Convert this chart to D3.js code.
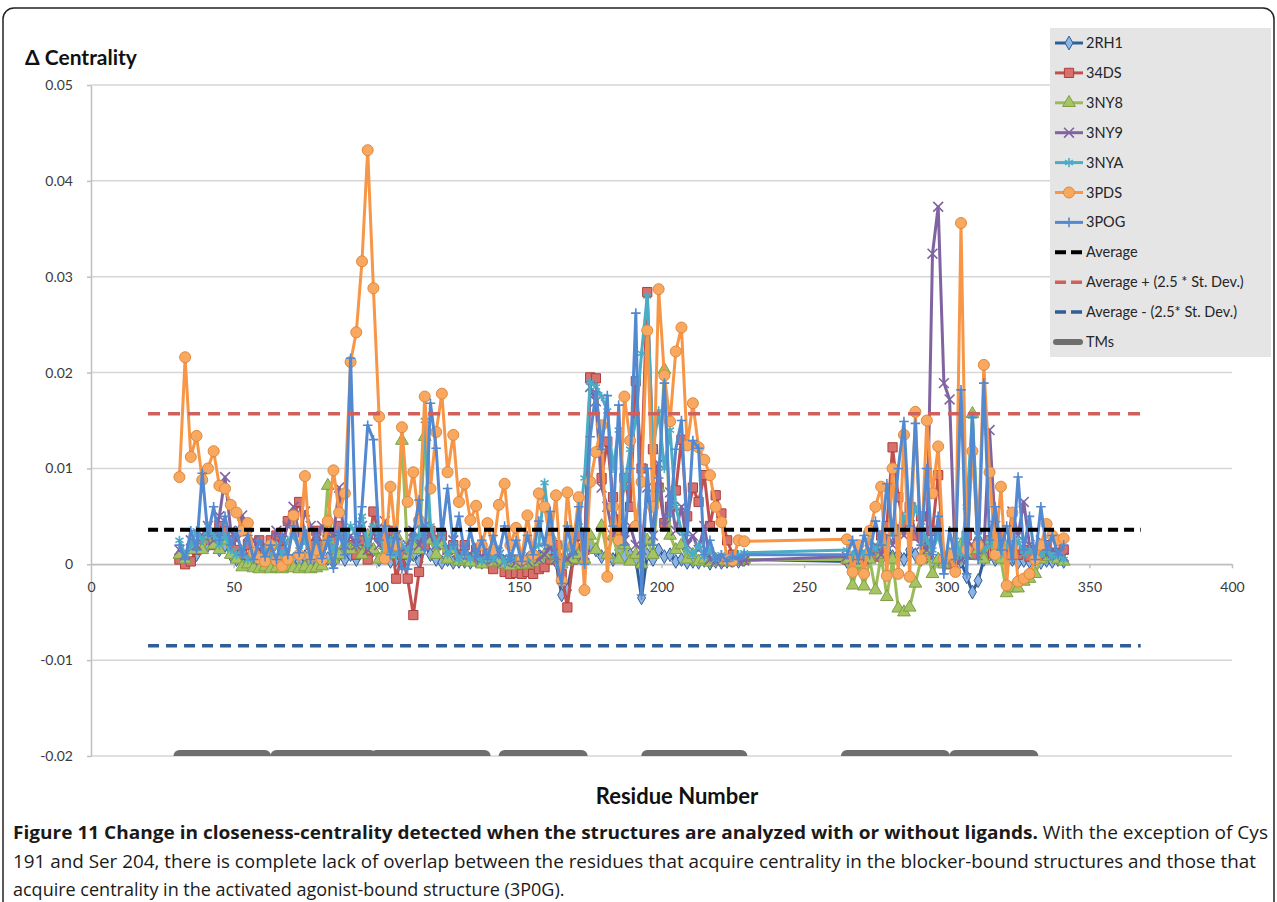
<!DOCTYPE html>
<html>
<head>
<meta charset="utf-8">
<script src="https://cdn.jsdelivr.net/npm/d3@7"></script>
<style>
  body { margin: 0; background: #fff; }
  svg { display: block; font-family: Lato, "Open Sans", sans-serif; }
</style>
</head>
<body>
<div id="chart"></div>
<script>
// residue numbers (the loop 230-265 has no data)
var residues = d3.range(31, 230, 2).concat(d3.range(265, 342, 2));

// delta centrality per structure, in units of 0.001
var v2RH1 = [
  1.0, 0.5, 2.0, 1.0, 2.5, 2.0, 3.0, 1.5, 2.0, 1.0,
  0.5, 0.3, 0.5, 0.2, 0.4, 0.0, 0.3, 0.1, 0.5, 0.2,
  0.5, 0.3, 0.8, 0.2, 0.5, 0.3, 0.6, 0.2, 1.0, 0.5,
  1.0, 0.5, 2.0, 0.8, 1.5, 0.5, 1.0, 0.3, 0.5, 0.2,
  0.5, 1.0, 0.3, 2.0, 1.0, 0.5, 0.2, 0.5, 0.2, 0.3,
  0.3, 0.2, 0.4, 0.2, 0.3, 0.1, 0.3, 0.2, 0.1, 0.3,
  0.2, 0.5, 0.3, 0.8, 0.5, 1.0, 0.3, -3.2, -2.7, 0.5,
  1.0, 0.5, 2.0, 1.5, 0.8, 1.0, 0.5, 1.5, 0.8, 1.0,
  0.5, -3.5, 1.0, 0.5, 1.5, 0.8, 1.0, 0.3, 0.5, 0.2,
  0.3, 0.2, 0.4, 0.1, 0.3, 0.2, 0.3, 0.4, 0.3, 0.5,
  0.3, 0.5, 0.2, 0.8, 0.5, 1.0, 0.5, 1.5, 0.8, 1.0,
  0.5, 1.5, 1.0, 0.5, 0.8, 0.3, 0.5, 0.2, 0.8, 0.5,
  0.3, -1.3, -2.9, -1.7, 0.5, 1.0, 0.5, 0.8, 0.3, 0.5,
  0.2, 0.4, 0.3, 0.5, 0.2, 0.4, 0.3, 0.5, 0.3
];
var v34DS = [
  0.5, 0.0, 0.3, 1.5, 2.5, 3.0, 2.0, 4.0, 3.5, 2.5,
  1.5, 1.0, 2.0, 1.2, 2.5, 1.5, 2.5, 3.0, 1.5, 4.5,
  5.1, 6.5, 3.0, 2.0, 3.5, 2.0, 3.0, 2.5, 4.0, 3.0,
  2.0, 1.0, 2.5, 0.5, 5.5, 3.0, 2.0, 3.5, -1.5, 1.0,
  -1.5, -5.3, -0.8, 2.0, 3.5, 2.5, 3.0, 1.5, 2.0, 1.0,
  2.0, 0.5, 1.5, 0.5, 1.0, -0.5, 0.5, -0.8, -1.0, -0.9,
  -1.0, -0.8, -1.0, -0.5, -0.3, 0.5, 2.0, -1.0, -4.5, 0.5,
  3.0, 1.5, 19.5, 19.4, 9.0, 12.8, 7.0, 3.0, 9.0, 6.0,
  19.1, 10.0, 28.4, 12.0, 8.0, 4.3, 6.0, 7.7, 13.0, 5.0,
  8.0, 6.5, 9.3, 4.0, 7.2, 5.3, 2.5, 1.0, 0.5, 0.5,
  0.5, 0.0, 0.5, 0.3, 1.0, 0.8, 3.0, 4.0, 12.2, 7.0,
  4.0, 6.0, 3.0, 5.0, 1.0, 3.5, 9.3, 0.3, 0.0, 0.5,
  1.5, 3.0, 1.0, 2.0, 1.0, 2.5, 1.5, 3.0, 1.0, 2.0,
  1.0, 1.5, 0.8, 1.5, 1.0, 2.0, 1.0, 1.2, 1.5
];
var v3NY8 = [
  1.0, 0.5, 1.5, 2.0, 1.5, 3.0, 2.0, 1.5, 2.5, 1.0,
  0.5, -0.3, 0.0, -0.4, -0.5, -0.3, -0.5, -0.4, -0.5, -0.3,
  -0.4, -0.5, -0.3, -0.5, -0.4, -0.2, 8.2, 0.5, 1.0, 2.0,
  1.5, 2.0, 1.0, 3.0, 1.5, 0.5, 2.0, 1.0, 3.0, 12.9,
  1.0, 2.0, 1.5, 13.3, 2.5, 1.0, 2.0, 0.5, 1.5, 0.3,
  0.5, 0.2, 1.0, 0.0, 0.5, 0.2, 0.3, 0.0, -0.2, 0.1,
  -0.1, 0.0, 0.2, 0.5, 1.0, 3.0, 0.5, 0.0, 0.3, 0.5,
  1.0, 0.5, 3.0, 1.5, 4.0, 1.0, 3.0, 0.5, 2.0, 0.3,
  1.0, 0.0, 2.5, 1.0, 8.0, 20.3, 3.0, 1.5, 2.0, 0.5,
  1.0, 0.3, 0.5, 0.2, 0.5, 0.3, 0.2, 0.4, 0.3, 0.5,
  0.5, -2.2, 0.0, -2.3, 0.5, -2.7, 1.0, -3.4, 0.5, -4.6,
  -5.0, -4.5, -2.0, 0.5, 1.5, -1.0, 0.5, 0.0, 1.0, 0.5,
  2.0, 1.0, 15.7, 1.5, 0.5, 2.5, 1.0, 0.5, -3.0, -2.5,
  -2.5, -1.8, -1.5, -1.0, 0.5, 0.8, 1.0, 0.5, 0.3
];
var v3NY9 = [
  1.5, 1.0, 2.5, 2.0, 3.0, 4.0, 2.5, 5.0, 9.1, 3.5,
  2.5, 5.1, 3.0, 2.5, 1.5, 2.0, 1.0, 3.5, 2.5, 4.0,
  6.0, 3.0, 5.5, 4.0, 3.0, 4.0, 2.5, 3.0, 8.0, 2.0,
  3.0, 2.0, 4.0, 1.5, 3.5, 2.0, 4.5, 2.5, 3.0, 1.5,
  2.0, 3.5, 2.0, 4.0, 3.0, 2.0, 3.0, 1.5, 2.5, 1.0,
  1.5, 1.0, 2.0, 0.5, 1.5, 0.5, 1.0, 0.3, 0.5, 0.2,
  0.5, 0.3, 0.8, 0.5, 1.0, 2.0, 0.5, 1.0, 0.5, 1.5,
  2.0, 1.0, 18.5, 17.0, 8.0, 6.0, 3.0, 5.0, 2.5, 4.0,
  2.0, 1.5, 8.0, 3.0, 10.5, 4.0, 7.5, 3.5, 6.0, 2.0,
  3.0, 1.5, 4.0, 0.5, 0.3, 0.5, 0.2, 0.5, 0.3, 0.4,
  0.8, 0.5, 1.0, 0.5, 1.5, 2.0, 1.0, 3.0, 2.0, 4.0,
  3.0, 5.0, 3.5, 2.0, 1.5, 32.4, 37.3, 18.9, 17.2, 0.0,
  0.5, 1.0, 2.0, 3.0, 1.5, 14.0, 4.0, 2.0, 1.5, 5.5,
  3.0, 6.5, 2.0, 1.5, 2.5, 1.0, 1.5, 1.0, 0.8
];
var v3NYA = [
  2.5, 1.0, 2.0, 3.5, 2.5, 4.0, 3.0, 2.0, 3.0, 1.5,
  1.0, 1.5, 0.5, 1.0, 0.5, 1.5, 0.8, 2.0, 1.0, 2.5,
  3.0, 1.5, 2.5, 1.0, 2.0, 1.0, 2.5, 1.5, 3.0, 2.0,
  4.0, 3.0, 5.0, 2.0, 4.0, 3.0, 1.5, 2.5, 1.0, 2.0,
  1.5, 2.5, 3.0, 15.0, 4.0, 2.0, 3.5, 1.0, 2.0, 0.5,
  1.5, 0.5, 1.0, 0.3, 1.0, 0.5, 1.5, 0.2, 0.8, 0.5,
  1.0, 0.5, 1.5, 2.0, 8.5, 3.0, 1.0, 2.0, 1.5, 2.5,
  4.0, 9.0, 19.0, 18.5, 17.5, 16.0, 10.0, 14.0, 8.0, 12.0,
  15.0, 22.0, 28.0, 12.0, 16.0, 10.0, 14.0, 6.0, 3.5, 1.5,
  1.0, 2.0, 0.8, 1.5, 0.5, 1.0, 0.5, 0.8, 1.0, 1.2,
  1.5, 1.0, 2.0, 1.0, 2.5, 1.5, 3.0, 2.0, 4.0, 3.0,
  5.0, 3.5, 6.0, 4.0, 2.5, 1.5, 3.0, 0.5, 1.0, 2.5,
  1.0, 6.0, 15.5, 3.0, 1.5, 2.0, 3.0, 1.0, 2.0, 1.0,
  2.5, 1.0, 1.5, 0.5, 1.0, 1.5, 0.8, 1.0, 0.5
];
var v3PDS = [
  9.1, 21.6, 11.2, 13.4, 8.8, 10.0, 11.8, 8.2, 7.9, 6.2,
  5.4, 3.5, 4.3, 1.2, 0.6, 0.3, 2.0, 0.4, -0.2, 0.5,
  5.1, 1.0, 9.2, 0.8, 1.5, 0.5, 4.5, 9.8, 5.4, 7.4,
  21.1, 24.2, 31.6, 43.2, 28.8, 15.4, 0.6, 8.1, 2.0, 14.3,
  6.5, 9.6, 4.6, 17.5, 7.9, 13.8, 17.8, 9.6, 13.5, 6.5,
  8.4, 4.6, 6.1, 2.0, 4.3, 1.5, 6.2, 8.4, 2.0, 3.8,
  0.5, 5.1, 1.0, 7.4, 6.0, 2.5, 7.2, -1.7, 7.5, 2.0,
  7.0, -2.7, 8.6, 11.7, 14.5, -1.3, 6.0, 2.5, 17.5, 12.9,
  4.0, 8.6, 24.4, 6.0, 28.7, 19.7, 14.9, 22.2, 24.7, 12.4,
  16.8, 12.2, 10.9, 9.3, 6.0, 4.4, 0.5, 0.4, 2.5, 2.4,
  2.6, -0.8, 2.0, -1.0, 3.5, 6.0, 8.1, -1.2, 10.0, -1.0,
  13.5, -1.3, 15.9, 0.5, 15.0, 7.4, 12.3, 0.6, 1.0, -0.8,
  35.6, 1.5, 11.8, 2.0, 20.8, 9.6, 1.0, 8.1, -2.2, 5.4,
  -1.8, -1.5, -1.0, 0.5, 2.0, 4.2, 3.0, 2.5, 2.7
];
var v3P0G = [
  2.0, 0.5, 3.5, 1.5, 9.5, 3.0, 6.0, 2.5, 5.0, 2.0,
  3.5, 1.0, 3.0, 0.5, 2.5, 0.8, 2.0, 0.5, 3.0, 1.0,
  4.0, 1.2, 3.5, 0.5, 3.0, 0.6, 2.5, -0.4, 3.5, 1.0,
  21.5, 2.0, 6.0, 14.5, 13.0, 2.5, 4.0, 1.0, 3.5, -0.5,
  -0.5, 3.0, 6.7, 1.5, 16.8, 12.1, 3.0, 7.9, 2.0, 5.0,
  1.0, 3.5, 0.8, 2.5, 0.5, 3.0, 1.0, 4.0, 0.5, 2.5,
  0.3, 3.0, 1.0, 4.5, 2.0, 5.5, 0.5, -2.0, 4.0, 1.0,
  6.0, 0.0, 13.3, 18.0, 12.0, 17.6, 4.0, 16.6, 2.0, 10.0,
  26.2, -3.2, 10.0, 2.0, 9.0, 18.9, 5.0, 12.0, 15.0, 3.0,
  12.9, 12.1, 1.0, 2.5, 0.5, 1.0, 0.3, 0.8, 0.5, 1.0,
  1.0, 2.5, 0.5, 3.0, 1.0, 4.5, 2.0, 8.4, 3.0, 10.0,
  14.9, 4.0, 14.7, 2.0, 10.0, 1.0, 5.0, -1.0, 3.5, 0.5,
  18.2, -1.0, 15.3, 0.5, 18.9, 2.5, 6.0, 1.5, 4.0, 0.5,
  9.1, 1.5, 5.0, 0.5, 6.0, 1.5, 3.0, 1.0, 2.0
];
var unit = 0.001;

var seriesNames = ["2RH1", "34DS", "3NY8", "3NY9", "3NYA", "3PDS", "3POG"];
var seriesValues = [v2RH1, v34DS, v3NY8, v3NY9, v3NYA, v3PDS, v3P0G];

// reference lines: average and average +/- 2.5 st. dev.
var refNames = ["Average", "Average + (2.5 * St. Dev.)", "Average - (2.5* St. Dev.)"];
var refValues = [0.0036, 0.0157, -0.0085];
var refFrom = 20, refTo = 368;

// transmembrane helices (residue ranges)
var tmStart = [31, 65, 100, 145, 195, 265, 303];
var tmEnd = [61, 98, 138, 172, 228, 299, 330];

var yTicks = [-0.02, -0.01, 0, 0.01, 0.02, 0.03, 0.04, 0.05];
var xTicks = [0, 50, 100, 150, 200, 250, 300, 350, 400];

// styles for each series
var seriesStyle = [
  { line: "#2f5e96", fill: "#8db4e2", stroke: "#2f5e96", symbol: d3.symbolDiamond, size: 55 },
  { line: "#c0504d", fill: "#d6716d", stroke: "#b03e3b", symbol: d3.symbolSquare, size: 85 },
  { line: "#9bbb59", fill: "#a5c464", stroke: "#7f9d43", symbol: d3.symbolTriangle, size: 70 },
  { line: "#8064a2", fill: "none", stroke: "#8064a2", symbol: d3.symbolTimes, size: 65 },
  { line: "#4bacc6", fill: "none", stroke: "#4bacc6", symbol: d3.symbolAsterisk, size: 60 },
  { line: "#f79646", fill: "#f9a860", stroke: "#e0873c", symbol: d3.symbolCircle, size: 95 },
  { line: "#5289d0", fill: "none", stroke: "#5289d0", symbol: d3.symbolPlus, size: 32 }
];
var refStyle = [
  { color: "#000000", width: 4, dash: "10,6" },
  { color: "#d0605b", width: 3.5, dash: "12,8" },
  { color: "#2f5e96", width: 3.5, dash: "11,7" }
];

var svgWidth = 1277, svgHeight = 902;
var plot = { left: 91, right: 1232, top: 85, bottom: 756 };

var svg = d3.select("#chart")
  .append("svg")
  .attr("width", svgWidth)
  .attr("height", svgHeight);

// outer frame of the figure
svg.append("rect")
  .attr("x", 3).attr("y", 8)
  .attr("width", 1271).attr("height", 920)
  .attr("rx", 11)
  .attr("fill", "none")
  .attr("stroke", "#222")
  .attr("stroke-width", 1.5);

var x = d3.scaleLinear().domain([0, 400]).range([plot.left, plot.right]);
var y = d3.scaleLinear().domain([-0.02, 0.05]).range([plot.bottom, plot.top]);

svg.append("clipPath").attr("id", "plotClip")
  .append("rect")
  .attr("x", plot.left).attr("y", plot.top)
  .attr("width", plot.right - plot.left).attr("height", plot.bottom - plot.top);

// horizontal gridlines
svg.append("g")
  .selectAll("line")
  .data(yTicks)
  .enter()
  .append("line")
  .attr("x1", plot.left).attr("x2", plot.right)
  .attr("y1", d => y(d)).attr("y2", d => y(d))
  .attr("stroke", "#d6d6d6")
  .attr("stroke-width", 1.5);

// y axis (plain hyphen for negatives, as in the original)
var leftAxis = d3.axisLeft(y)
  .tickValues(yTicks)
  .tickSize(4)
  .tickPadding(14)
  .tickSizeOuter(0)
  .tickFormat(d => d === 0 ? "0" : d.toFixed(2));
var yAxis = svg.append("g")
  .attr("transform", `translate(${plot.left}, 0)`)
  .call(leftAxis);

// x axis sits on zero
var bottomAxis = d3.axisBottom(x)
  .tickValues(xTicks)
  .tickSize(4)
  .tickPadding(14)
  .tickSizeOuter(0)
  .tickFormat(d => String(d));
var xAxis = svg.append("g")
  .attr("transform", `translate(0, ${y(0)})`)
  .call(bottomAxis);

[xAxis, yAxis].forEach(function (g) {
  g.select(".domain").attr("stroke", "#bfbfbf").attr("stroke-width", 1.5);
  g.selectAll(".tick line").attr("stroke", "#bfbfbf").attr("stroke-width", 1.5);
  g.selectAll(".tick text")
    .attr("fill", "#3a3a3a")
    .style("font-family", "Lato, sans-serif")
    .style("font-size", "14px");
});
xAxis.selectAll(".tick line").filter(d => d === 0).remove();

var dataGroup = svg.append("g").attr("clip-path", "url(#plotClip)");

// TM helices along the bottom
dataGroup.append("g")
  .selectAll("line")
  .data(tmStart)
  .enter()
  .append("line")
  .attr("x1", d => x(d))
  .attr("x2", (d, i) => x(tmEnd[i]))
  .attr("y1", y(-0.02)).attr("y2", y(-0.02))
  .attr("stroke", "#6e6e6e")
  .attr("stroke-width", 12)
  .attr("stroke-linecap", "round");

var line = d3.line()
  .defined(d => d.v != null)
  .x(d => x(d.r))
  .y(d => y(d.v * unit));

// one line + markers per structure, drawn in legend order
seriesValues.forEach(function (vals, i) {
  var st = seriesStyle[i];
  var pts = residues.map((r, j) => ({ r: r, v: vals[j] })).filter(d => d.v != null);
  var g = dataGroup.append("g");
  g.append("path")
    .datum(pts)
    .attr("d", line)
    .attr("fill", "none")
    .attr("stroke", st.line)
    .attr("stroke-width", 3)
    .attr("stroke-linejoin", "round");
  g.selectAll("path.marker")
    .data(pts)
    .enter()
    .append("path")
    .attr("class", "marker")
    .attr("transform", d => `translate(${x(d.r)}, ${y(d.v * unit)})`)
    .attr("d", d3.symbol().type(st.symbol).size(st.size))
    .attr("fill", st.fill)
    .attr("stroke", st.stroke)
    .attr("stroke-width", st.fill === "none" ? 1.6 : 1);
});

// average lines
dataGroup.append("g")
  .selectAll("line")
  .data(refValues)
  .enter()
  .append("line")
  .attr("x1", x(refFrom)).attr("x2", x(refTo))
  .attr("y1", d => y(d)).attr("y2", d => y(d))
  .attr("stroke", (d, i) => refStyle[i].color)
  .attr("stroke-width", (d, i) => refStyle[i].width)
  .attr("stroke-dasharray", (d, i) => refStyle[i].dash);

// legend
var legend = svg.append("g").attr("transform", "translate(1050, 28)");
legend.append("rect")
  .attr("width", 221).attr("height", 329)
  .attr("fill", "#e5e5e5");

var legendItems = seriesNames.concat(refNames).concat(["TMs"]);
var rowY = d => 15 + d * 29.9;
legendItems.forEach(function (name, i) {
  var row = legend.append("g").attr("transform", `translate(0, ${rowY(i)})`);
  if (i < seriesNames.length) {
    var st = seriesStyle[i];
    row.append("line").attr("x1", 5).attr("x2", 33)
      .attr("stroke", st.line).attr("stroke-width", 3);
    row.append("path")
      .attr("transform", "translate(19, 0)")
      .attr("d", d3.symbol().type(st.symbol).size(st.size))
      .attr("fill", st.fill).attr("stroke", st.stroke)
      .attr("stroke-width", st.fill === "none" ? 1.6 : 1);
  } else if (i < seriesNames.length + refNames.length) {
    var rs = refStyle[i - seriesNames.length];
    row.append("line").attr("x1", 5).attr("x2", 34)
      .attr("stroke", rs.color).attr("stroke-width", rs.width)
      .attr("stroke-dasharray", "11,5");
  } else {
    row.append("line").attr("x1", 6).attr("x2", 30)
      .attr("stroke", "#6e6e6e").attr("stroke-width", 6)
      .attr("stroke-linecap", "round");
  }
  row.append("text")
    .attr("x", 36).attr("dy", "0.35em")
    .attr("fill", "#262626")
    .style("font-size", "14.5px")
    .text(name);
});

// axis titles
svg.append("text")
  .attr("x", 25).attr("y", 65)
  .attr("fill", "#111")
  .style("font-size", "21px").style("font-weight", "bold")
  .text("\u0394 Centrality");

svg.append("text")
  .attr("x", 677).attr("y", 804)
  .attr("text-anchor", "middle")
  .attr("fill", "#111")
  .style("font-size", "22px").style("font-weight", "bold")
  .text("Residue Number");

// figure caption
var caption = svg.append("g")
  .style("font-family", "'Open Sans', sans-serif")
  .style("font-size", "18px")
  .attr("fill", "#1a1a1a");
var cap1 = caption.append("text").attr("x", 13).attr("y", 839)
  .attr("textLength", 1255).attr("lengthAdjust", "spacingAndGlyphs");
cap1.append("tspan").style("font-weight", "bold")
  .text("Figure 11 Change in closeness-centrality detected when the structures are analyzed with or without ligands.");
cap1.append("tspan").text(" With the exception of Cys");
caption.append("text").attr("x", 13).attr("y", 868)
  .attr("textLength", 1243).attr("lengthAdjust", "spacingAndGlyphs")
  .text("191 and Ser 204, there is complete lack of overlap between the residues that acquire centrality in the blocker-bound structures and those that");
caption.append("text").attr("x", 13).attr("y", 896)
  .text("acquire centrality in the activated agonist-bound structure (3P0G).");
</script>
</body>
</html>
